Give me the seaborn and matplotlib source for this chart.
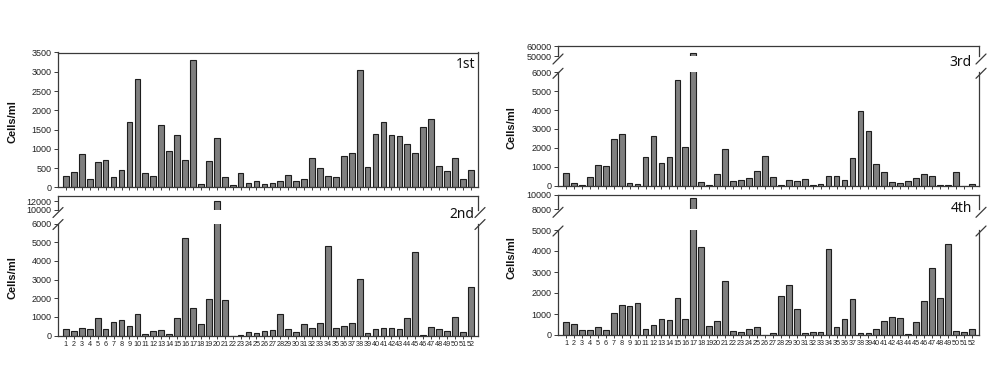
import numpy as np
import pandas as pd
import seaborn as sns
import matplotlib.pyplot as plt

# cells/ml per site
sites = [str(i) for i in range(1, 53)]
first = [300, 400, 875, 210, 660, 700, 280, 450, 1700, 2800, 380, 300, 1630, 945, 1370, 700,
         3300, 80, 685, 1280, 280, 60, 380, 120, 165, 80, 105, 165, 320, 165, 215, 770, 495,
         300, 280, 815, 900, 3050, 520, 1395, 1705, 1350, 1335, 1135, 900, 1570, 1785, 555,
         425, 755, 215, 450]
second = [340, 230, 430, 340, 925, 340, 730, 855, 515, 1175, 107, 250, 285, 70, 960, 5230,
          1495, 605, 1975, 12000, 1900, 0, 35, 215, 125, 250, 300, 1140, 340, 215, 605, 430,
          695, 4805, 430, 515, 695, 3040, 125, 340, 390, 430, 340, 960, 4450, 18, 480, 340,
          230, 995, 195, 2580]
third = [670, 125, 40, 440, 1100, 1050, 2450, 2750, 120, 90, 1530, 2630, 1180, 1500, 5570,
         2070, 53000, 170, 40, 600, 1930, 250, 300, 400, 795, 1590, 460, 50, 300, 250, 350, 50,
         105, 495, 495, 320, 1465, 3950, 2910, 1145, 705, 175, 125, 265, 405, 615, 495, 50, 50,
         740, 0, 105]
fourth = [600, 540, 255, 255, 380, 220, 1050, 1445, 1365, 1525, 300, 460, 780, 700, 1760, 780,
          9600, 4200, 430, 665, 2555, 190, 140, 300, 400, 15, 95, 1840, 2400, 1220, 95, 140,
          140, 4080, 400, 780, 1715, 95, 95, 300, 650, 840, 810, 65, 600, 1635, 3205, 1760,
          4320, 175, 125, 300]
panel_names = ['1st', '2nd', '3rd', '4th']

sns.set_theme(style='ticks')
plt.rcParams['font.family'] = ['Liberation Sans', 'DejaVu Sans']

W, H = 1006, 374
fig = plt.figure(figsize=(W / 100, H / 100), dpi=100)

BAR = '#7f7f7f'
EDGE = '#1e1e1e'
SPINE = '#3a3a3a'


def rect(x0, x1, ytop, ybot):
    # pixel box -> figure fraction
    return [x0 / W, 1 - ybot / H, (x1 - x0) / W, (ybot - ytop) / H]


def bars(ax, values):
    df = pd.DataFrame({'site': sites, 'cells': values})
    sns.barplot(data=df, x='site', y='cells', color=BAR, saturation=1, edgecolor=EDGE,
                linewidth=0.8, width=0.72, ax=ax)
    ax.set_xlim(-1, 51.9)
    ax.set_xlabel('')
    ax.set_ylabel('')
    for s in ax.spines.values():
        s.set_color(SPINE)
        s.set_linewidth(0.9)
    ax.tick_params(axis='both', direction='out', length=3, width=0.7, color=SPINE,
                   labelsize=6.5, pad=1.5, labelcolor='#222222')


def xlabels(ax, show):
    if show:
        ax.set_xticks(range(52))
        ax.set_xticklabels(sites, fontsize=5.2,
                           family=['Liberation Sans Narrow', 'Liberation Sans'])
        ax.tick_params(axis='x', length=2.5, pad=1)
    else:
        ax.tick_params(axis='x', labelbottom=False, length=2.5)


def slash(xpix, ypix, size=5):
    fig.add_artist(plt.Line2D([(xpix - size) / W, (xpix + size) / W],
                              [1 - (ypix + size) / H, 1 - (ypix - size) / H],
                              transform=fig.transFigure, color=SPINE, lw=0.9))


def broken(x0, x1, hi_box, lo_box, values, hi_lim, hi_ticks, lo_lim, lo_ticks, show_x):
    ax_hi = fig.add_axes(rect(x0, x1, *hi_box))
    ax_lo = fig.add_axes(rect(x0, x1, *lo_box))
    for ax in (ax_hi, ax_lo):
        bars(ax, values)
    ax_hi.set_ylim(*hi_lim)
    ax_hi.set_yticks(hi_ticks)
    ax_hi.spines['bottom'].set_visible(False)
    ax_hi.tick_params(axis='x', bottom=False, labelbottom=False)
    ax_lo.set_ylim(*lo_lim)
    ax_lo.set_yticks(lo_ticks)
    ax_lo.spines['top'].set_visible(False)
    xlabels(ax_lo, show_x)
    for xp in (x0, x1 + 2):
        slash(xp, hi_box[1] + 3)
        slash(xp, lo_box[0] + 1)
    return ax_hi, ax_lo


# 1st: plain axis
ax1 = fig.add_axes(rect(58, 478, 52.5, 187.3))
bars(ax1, first)
ax1.set_ylim(0, 3500)
ax1.set_yticks(range(0, 3501, 500))
xlabels(ax1, False)

# 2nd, 3rd, 4th: broken y axis
broken(58, 478, (196, 209.5), (223.5, 335.7), second, (10000, 13200), [10000, 12000],
       (0, 6000), range(0, 6001, 1000), True)
broken(558, 979, (46, 56), (72.3, 185.7), third, (50000, 60000), [50000, 60000],
       (0, 6000), range(0, 6001, 1000), False)
broken(558, 979, (195, 209.3), (230, 335), fourth, (8000, 10000), [8000, 10000],
       (0, 5000), range(0, 5001, 1000), True)

# y labels
for xp, yp in [(13, 122), (13, 278), (512, 128), (512, 258)]:
    fig.text(xp / W, 1 - yp / H, 'Cells/ml', rotation=90, ha='center', va='center',
             fontsize=8, fontweight='bold', color='#111111')

# panel names
for name, (xp, yp) in zip(panel_names, [(475, 64), (474, 215), (972, 63), (972, 208)]):
    fig.text(xp / W, 1 - yp / H, name, ha='right', va='center', fontsize=10,
             family=['Noto Sans', 'DejaVu Sans'], color='#111111')

fig.savefig('out.png', dpi=100, facecolor='white')
